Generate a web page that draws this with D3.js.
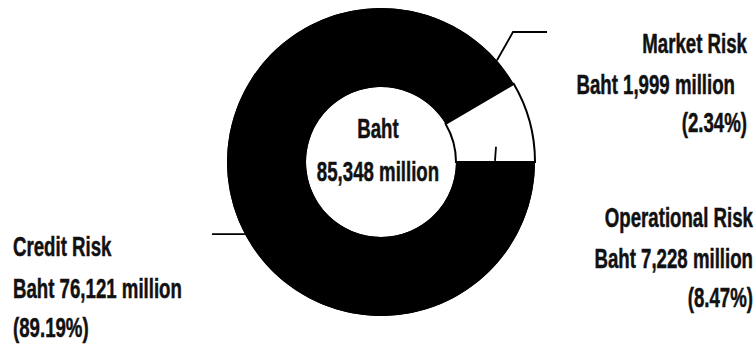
<!DOCTYPE html>
<html lang="en">
<head>
<meta charset="UTF-8">
<title>Capital by risk type</title>
<script src="https://cdn.jsdelivr.net/npm/d3@7/dist/d3.min.js"></script>
<style>
    html, body { margin: 0; padding: 0; background: #fff; }
    svg { display: block; }
    .lbl { font-family: "Liberation Sans Narrow", "Liberation Sans", Arial, sans-serif;
           font-weight: bold; font-size: 27.5px; fill: #111;
           stroke: #111; stroke-width: 0.5px; }
</style>
</head>
<body>
<script>
    var width = 756, height = 347;

    // data
    var categories = ["Credit Risk", "Market Risk", "Operational Risk"];
    var amounts = [76121, 1999, 7228];      // Baht million
    var shares = [89.19, 2.34, 8.47];       // percent
    var total = 85348;                      // Baht million

    var svg = d3.select("body").append("svg")
        .attr("width", width)
        .attr("height", height);

    // donut geometry
    var cx = 381, cy = 162, outerR = 154, innerR = 75;
    var fills = ["#000", "#000", "#fff"];

    var pie = d3.pie()
        .sort(null)
        .value(function (d) { return d; })
        .startAngle(Math.PI / 2)
        .endAngle(Math.PI / 2 + 2 * Math.PI);
    var arcs = pie(amounts);
    var arc = d3.arc().innerRadius(innerR).outerRadius(outerR);

    var g = svg.append("g").attr("transform", "translate(" + cx + "," + cy + ")");

    // full black ring underneath so slice seams don't show
    g.append("path")
        .attr("d", arc({startAngle: 0, endAngle: 2 * Math.PI}))
        .attr("fill", "#000");

    g.selectAll("path.slice")
        .data(arcs)
        .enter()
        .append("path")
        .attr("class", "slice")
        .attr("d", arc)
        .attr("fill", function (d, i) { return fills[i]; })
        .attr("stroke", "#000")
        .attr("stroke-width", function (d, i) { return i === 2 ? 2 : 0; });

    function polar(r, a) { return [r * Math.sin(a), -r * Math.cos(a)]; }

    // leader lines
    var line = d3.line();
    var mStart = polar(outerR, arcs[1].startAngle - 0.04);
    var cStart = polar(outerR, (arcs[0].startAngle + arcs[0].endAngle) / 2 - 0.148);
    var leaders = [
        [cStart, [212 - cx, cStart[1]]],
        [mStart, [513 - cx, 32 - cy], [547 - cx, 32 - cy]],
        [polar(116, arcs[2].startAngle + 0.4), polar(114, arcs[2].endAngle - 0.01)]
    ];
    g.selectAll("path.leader")
        .data(leaders)
        .enter()
        .append("path")
        .attr("class", "leader")
        .attr("d", line)
        .attr("fill", "none")
        .attr("stroke", "#000")
        .attr("stroke-width", 1.8);

    // labels
    var fmt = d3.format(",");
    var layout = [
        {anchor: "start", xs: [13, 13, 13], ys: [256, 298, 337]},
        {anchor: "end", xs: [747, 735, 747], ys: [53, 94, 132]},
        {anchor: "end", xs: [753, 753, 753], ys: [227, 268, 307]}
    ];
    var rows = [];
    categories.forEach(function (c, i) {
        var lines = [c, "Baht " + fmt(amounts[i]) + " million", "(" + shares[i].toFixed(2) + "%)"];
        lines.forEach(function (t, j) {
            rows.push({text: t, x: layout[i].xs[j], y: layout[i].ys[j], anchor: layout[i].anchor});
        });
    });
    rows.push({text: "Baht", x: 378, y: 138, anchor: "middle"});
    rows.push({text: fmt(total) + " million", x: 378, y: 181, anchor: "middle"});

    var texts = svg.selectAll("text.lbl")
        .data(rows)
        .enter()
        .append("text")
        .attr("class", "lbl")
        .attr("text-anchor", function (d) { return d.anchor; })
        .text(function (d) { return d.text; });

    // squeeze the type so "Baht 76,121 million" is as wide as in the scan
    var natural = texts.filter(function (d) { return d.text === "Baht 76,121 million"; })
        .node().getComputedTextLength();
    var k = 169 / natural;
    texts.attr("transform", function (d) {
        return "translate(" + d.x + "," + d.y + ") scale(" + k + ",1)";
    });
</script>
</body>
</html>
